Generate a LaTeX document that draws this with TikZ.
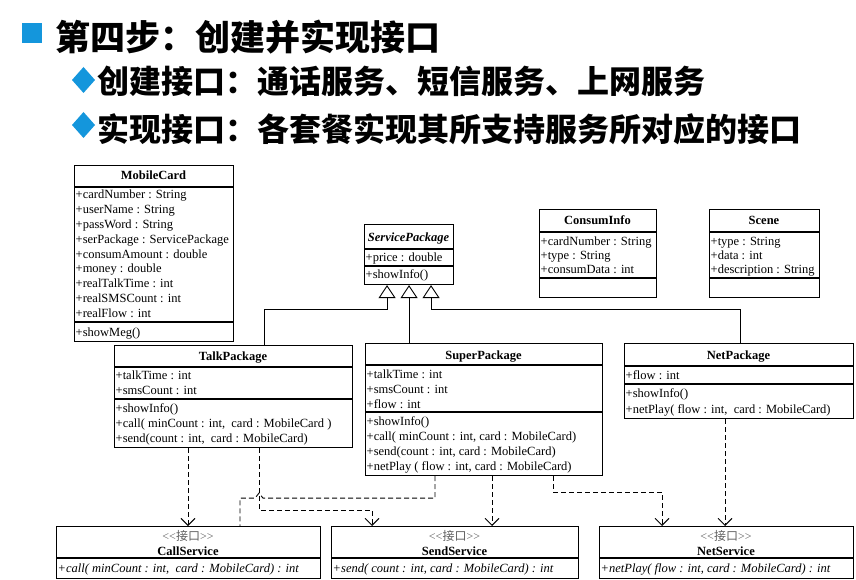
\documentclass[tikz,border=0pt]{standalone}
\usepackage{fontspec}
\setmainfont{Liberation Serif}
\newfontfamily\cjk{Noto Sans CJK SC}
\usetikzlibrary{arrows.meta,calc}
\definecolor{hblue}{RGB}{20,150,220}
\definecolor{stereogray}{RGB}{95,95,95}
\newcommand\umlrows[5]{\foreach \rowtext [count=\i] in {#5}{\node[row] (#1\i) at (#2,{#3+#4*(\i-1)}) {\rowtext};}}
\newcommand\iface{<{}<{\cjk 接口}>{}>}
\begin{document}
\begin{tikzpicture}[x=1pt,y=-1pt,
  box/.style={draw, line width=1.1pt, inner sep=0, anchor=north west},
  row/.style={anchor=base west, inner sep=0, font=\fontsize{12.5}{14}\selectfont},
  ttl/.style={anchor=base, inner sep=0, font=\bfseries\fontsize{12.5}{14}\selectfont},
  stereo/.style={anchor=base, inner sep=0, text=stereogray, font=\fontsize{12}{14}\selectfont},
  sep/.style={line width=1.1pt},
  inh/.style={line width=0.9pt, -{Triangle[open,length=13pt,width=17pt]}},
  real/.style={line width=0.9pt, dash pattern=on 5pt off 3pt, -{Straight Barb[length=7pt,width=14pt]}},
  realnotip/.style={line width=0.9pt, dash pattern=on 5pt off 3pt},
  head/.style={anchor=west, inner sep=0}]
\useasboundingbox (0,0) rectangle (856,580);

% ---------- heading ----------
\fill[hblue] (22,23) rectangle (42,43);
\fill[hblue] (72,80) -- (83.5,67) -- (95,80) -- (83.5,93) -- cycle;
\fill[hblue] (72,125) -- (83.5,112) -- (95,125) -- (83.5,138) -- cycle;
\node[head, font=\cjk\bfseries\fontsize{35}{35}\selectfont] (h1) at (55,37) {第四步：创建并实现接口};
\node[head, font=\cjk\bfseries\fontsize{32}{32}\selectfont] (h2) at (97,81) {创建接口：通话服务、短信服务、上网服务};
\node[head, font=\cjk\bfseries\fontsize{32}{32}\selectfont] (h3) at (97,129) {实现接口：各套餐实现其所支持服务所对应的接口};

% ---------- MobileCard ----------
\node[box, minimum width=159, minimum height=176] (mc) at (74,165) {};
\draw[sep] (mc.west |- 0,187) -- (mc.east |- 0,187);
\draw[sep] (mc.west |- 0,322) -- (mc.east |- 0,322);
\node[ttl] (mct) at (153.5,179) {MobileCard};
\umlrows{mca}{75.5}{199}{14.75}{{+cardNumber : String},{+userName : String},{+passWord : String},{+serPackage : ServicePackage},{+consumAmount : double},{+money : double},{+realTalkTime : int},{+realSMSCount : int},{+realFlow : int}}
\umlrows{mcm}{75.5}{336}{14.75}{{+showMeg()}}

% ---------- ServicePackage ----------
\node[box, minimum width=89, minimum height=60] (spk) at (364,224) {};
\draw[sep] (spk.west |- 0,249) -- (spk.east |- 0,249);
\draw[sep] (spk.west |- 0,266) -- (spk.east |- 0,266);
\node[ttl, font=\bfseries\itshape\fontsize{12.5}{14}\selectfont] (spkt) at (408.5,241) {ServicePackage};
\umlrows{spka}{365.5}{261}{15}{{+price : double}}
\umlrows{spkm}{365.5}{278}{15}{{+showInfo()}}

% ---------- ConsumInfo ----------
\node[box, minimum width=117, minimum height=88] (ci) at (539,209) {};
\draw[sep] (ci.west |- 0,232) -- (ci.east |- 0,232);
\draw[sep] (ci.west |- 0,278) -- (ci.east |- 0,278);
\node[ttl] (cit) at (597.5,224) {ConsumInfo};
\umlrows{cia}{540.5}{245}{14}{{+cardNumber : String},{+type : String},{+consumData : int}}

% ---------- Scene ----------
\node[box, minimum width=110, minimum height=88] (sc) at (709,209) {};
\draw[sep] (sc.west |- 0,232) -- (sc.east |- 0,232);
\draw[sep] (sc.west |- 0,278) -- (sc.east |- 0,278);
\node[ttl] (sct) at (764,224) {Scene};
\umlrows{sca}{710.5}{245}{14}{{+type : String},{+data : int},{+description : String}}

% ---------- TalkPackage ----------
\node[box, minimum width=238, minimum height=102] (tp) at (114,345) {};
\draw[sep] (tp.west |- 0,367) -- (tp.east |- 0,367);
\draw[sep] (tp.west |- 0,399) -- (tp.east |- 0,399);
\node[ttl] (tpt) at (233,360) {TalkPackage};
\umlrows{tpa}{115.5}{379}{15.5}{{+talkTime : int},{+smsCount : int}}
\umlrows{tpm}{115.5}{412}{15}{{+showInfo()},{+call( minCount : int,\ \ card : MobileCard )},{+send(count : int,\ \ card : MobileCard)}}

% ---------- SuperPackage ----------
\node[box, minimum width=237, minimum height=132] (sup) at (365,343) {};
\draw[sep] (sup.west |- 0,365) -- (sup.east |- 0,365);
\draw[sep] (sup.west |- 0,412) -- (sup.east |- 0,412);
\node[ttl] (supt) at (483.5,359) {SuperPackage};
\umlrows{supa}{366.5}{378}{15}{{+talkTime : int},{+smsCount : int},{+flow : int}}
\umlrows{supm}{366.5}{425}{15}{{+showInfo()},{+call( minCount : int, card : MobileCard)},{+send(count : int, card : MobileCard)},{+netPlay ( flow : int, card : MobileCard)}}

% ---------- NetPackage ----------
\node[box, minimum width=229, minimum height=75] (np) at (624,343) {};
\draw[sep] (np.west |- 0,366) -- (np.east |- 0,366);
\draw[sep] (np.west |- 0,384) -- (np.east |- 0,384);
\node[ttl] (npt) at (738.5,359) {NetPackage};
\umlrows{npa}{625.5}{379}{15}{{+flow : int}}
\umlrows{npm}{625.5}{397}{16}{{+showInfo()},{+netPlay( flow : int,\ \ card : MobileCard)}}

% ---------- interfaces ----------
\node[box, minimum width=264, minimum height=52] (cs) at (56,526) {};
\draw[sep] (cs.west |- 0,558) -- (cs.east |- 0,558);
\node[stereo] (css) at (188,540) {\iface};
\node[ttl] (cst) at (188,555) {CallService};
\umlrows{csm}{57.5}{572}{15}{{\itshape +call( minCount : int,\ \ card : MobileCard) : int}}

\node[box, minimum width=247, minimum height=52] (ss) at (331,526) {};
\draw[sep] (ss.west |- 0,558) -- (ss.east |- 0,558);
\node[stereo] (sss) at (454.5,540) {\iface};
\node[ttl] (sst) at (454.5,555) {SendService};
\umlrows{ssm}{332.5}{572}{15}{{\itshape +send( count : int, card : MobileCard) : int}}

\node[box, minimum width=254, minimum height=52] (ns) at (599,526) {};
\draw[sep] (ns.west |- 0,558) -- (ns.east |- 0,558);
\node[stereo] (nss) at (726,540) {\iface};
\node[ttl] (nst) at (726,555) {NetService};
\umlrows{nsm}{600.5}{572}{15}{{\itshape +netPlay( flow : int, card : MobileCard) : int}}

% ---------- generalisation ----------
\draw[inh] ([xshift=150pt]tp.north west) |- ([xshift=-22pt,yshift=-24pt]spk.south) -- ([xshift=-22pt]spk.south);
\draw[inh] (spk.south |- sup.north) -- (spk.south);
\draw[inh] ([xshift=116pt]np.north west) |- ([xshift=22pt,yshift=-24pt]spk.south) -- ([xshift=22pt]spk.south);

% ---------- realisation ----------
\draw[real] ([xshift=74pt]tp.south west) -- ([xshift=74pt]tp.south west |- cs.north);
\draw[real] ([xshift=145pt]tp.south west) -- ++(0,62) -| ([xshift=41pt]ss.north west);
\draw[realnotip] ([xshift=70pt]sup.south west) -- ++(0,22) -- ++(-172,0) -- ++(-4,-5) -- ++(-4,5) -- ++(-15,0) -- ([xshift=184pt]cs.north west);
\draw[real] ([xshift=127pt]sup.south west) -- ([xshift=127pt]sup.south west |- ss.north);
\draw[real] ([xshift=188pt]sup.south west) -- ++(0,16) -| ([xshift=63pt]ns.north west);
\draw[real] ([xshift=101pt]np.south west) -- ([xshift=101pt]np.south west |- ns.north);
\end{tikzpicture}
\end{document}
